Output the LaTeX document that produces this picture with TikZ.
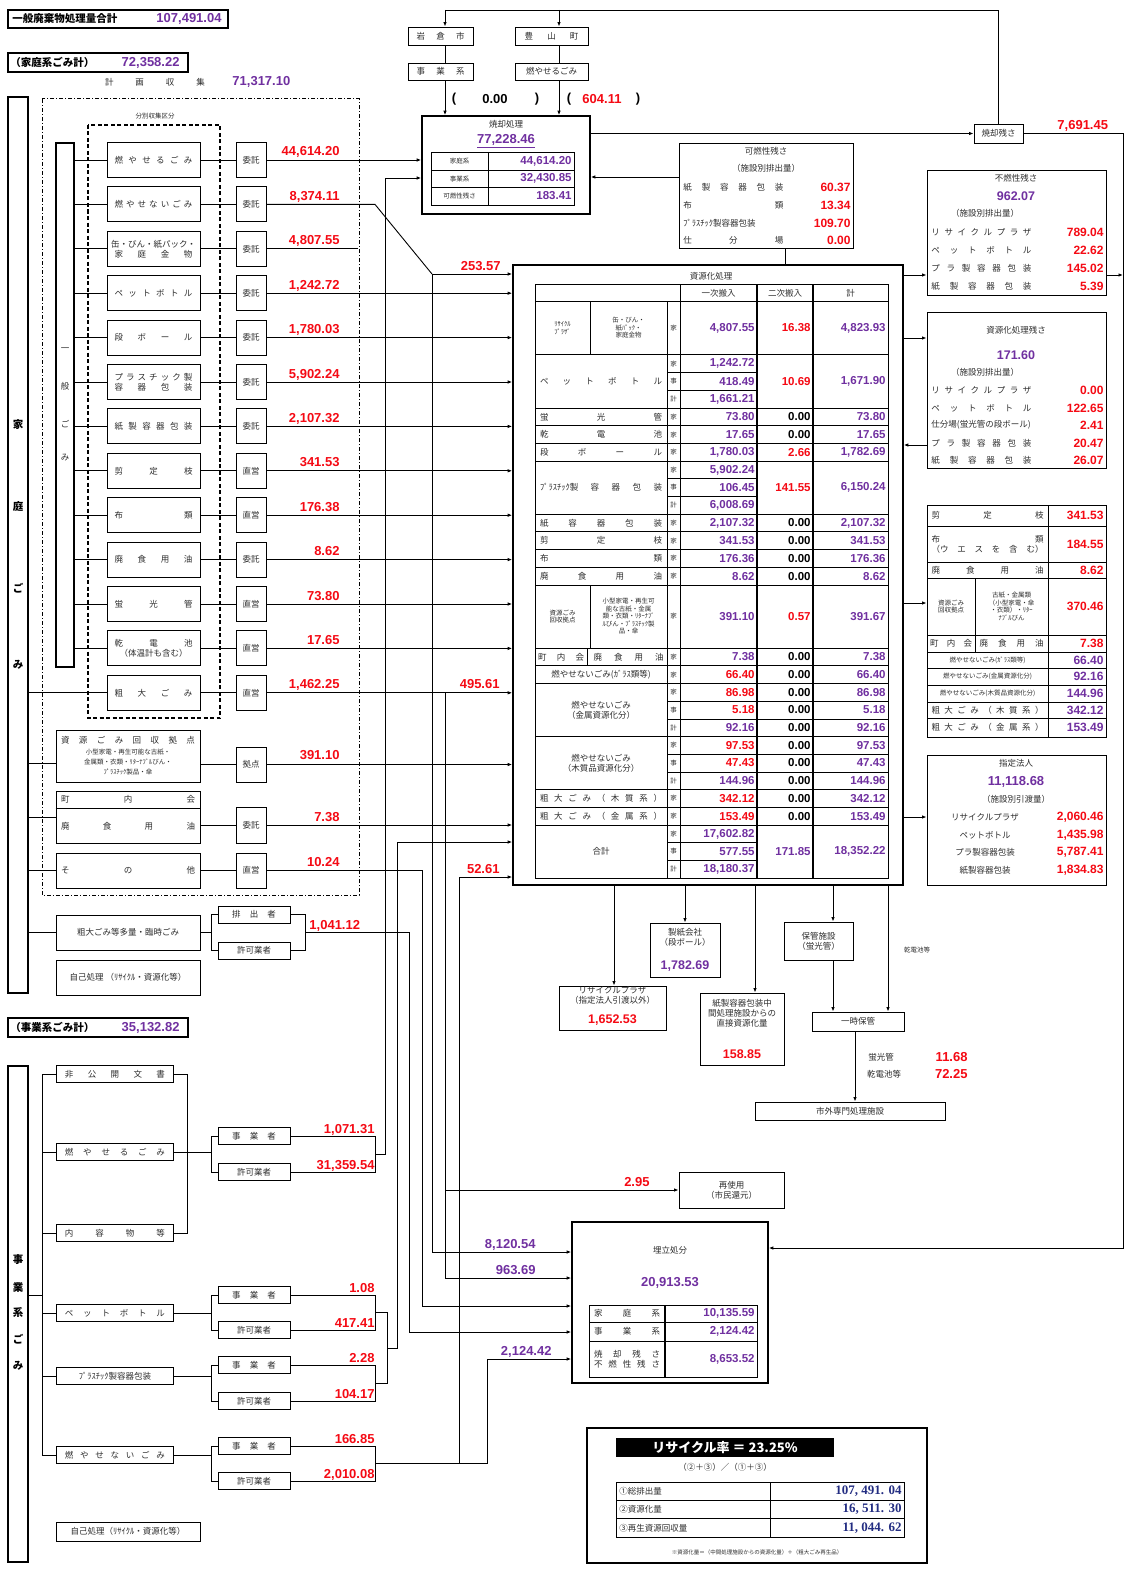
\documentclass[tikz,border=0pt]{standalone}
\usepackage{fontspec}
\setmainfont{Noto Sans CJK JP}
\newfontfamily\nf{Liberation Sans}
\newfontfamily\mf{Liberation Serif}
\usetikzlibrary{arrows.meta}
\definecolor{pu}{RGB}{112,48,160}
\definecolor{rd}{RGB}{245,10,20}
\definecolor{nv}{RGB}{35,45,130}
\definecolor{tx}{RGB}{45,45,45}
\newcounter{nc}
\newcommand\jt{\fontsize{8.5}{10}\selectfont}
\newcommand\js{\fontsize{6.5}{7.5}\selectfont}
\newcommand\jb{\fontsize{10.5}{11}\selectfont\bfseries}
\newcommand\spr[2]{\makebox[#1pt][s]{#2}}
\newcommand\bx[7][]{\node[bx,minimum width={(#5-#3)*1pt},minimum height={(#6-#4)*1pt},#1] (#2) at ({(#3+#5)/2},{(#4+#6)/2}) {#7};}
\newcommand\tv[4]{\stepcounter{nc}\node[tn,text=#4,anchor=east] (v\arabic{nc}) at (#1,#2) {#3};}
\newcommand\trow[7]{\tv{755}{#1}{#2}{#3}\tv{811}{#1}{#4}{#5}\tv{886}{#1}{#6}{#7}}
\newcommand\tk[3][]{\stepcounter{nc}\node[jt,#1] (k\arabic{nc}) at (#2) {#3};}
\newcommand\srow[8]{\tk{601,#1}{\spr{122}{#2}}\tk[font=\js]{673.5,#1}{家}\trow{#1}{#3}{#4}{#5}{#6}{#7}{#8}}
\newcommand\rrow[4]{\tk[anchor=west]{931,#1}{\spr{100}{#2}}\stepcounter{nc}\node[rn,text=#4,font=\nf\bfseries\fontsize{12}{12}\selectfont,anchor=east] (r\arabic{nc}) at (1104,#1) {#3};}
\tikzset{
 bx/.style={draw,line width=0.9pt,inner sep=0pt,align=center,font=\jt,text=tx},
 jt/.style={inner sep=0pt,align=center,font=\jt,text=tx},
 jb/.style={inner sep=0pt,font=\jb,text=black},
 rn/.style={inner sep=0pt,font=\nf\bfseries\fontsize{13}{13}\selectfont,text=rd},
 pn/.style={rn,text=pu},
 tn/.style={inner sep=0pt,font=\nf\bfseries\fontsize{11.5}{12}\selectfont},
 ar/.style={-{Latex[length=4.5pt,width=3.5pt]}},
}
\begin{document}
\begin{tikzpicture}[x=1pt,y=-1pt,line width=0.9pt]
\useasboundingbox (0,0) rectangle (1129,1573);
\fill[white] (0,0) rectangle (1129,1573);
% ---------- headers
\bx[line width=1.8pt]{hdA}{8}{10}{228}{28}{}
\node[jb,anchor=west] (hdAt) at (12,19) {一般廃棄物処理量合計};
\node[pn,anchor=east] (hdAn) at (222,19) {107,491.04};
\bx[line width=1.8pt]{hdB}{8}{53}{188}{72}{}
\node[jb,anchor=west] (hdBt) at (10,62.5) {（家庭系ごみ計）};
\node[pn,anchor=east] (hdBn) at (180,62.5) {72,358.22};
\node[jt] (kks) at (155,82) {\spr{100}{計 画 収 集}};
\node[pn,anchor=west] (kkn) at (232,82) {71,317.10};
% ---------- main boxes
\bx[line width=1.6pt]{yak}{422}{116}{590}{214}{}
\bx{kar}{679}{143}{853}{248}{}
\bx{zan}{974}{124}{1023}{143}{焼却残さ}
\bx[line width=1.6pt]{shg}{513}{265}{903}{885}{}
\bx{fun}{927}{170}{1106}{295}{}
\bx{szn}{927}{312}{1106}{468}{}
\bx{rtb}{927}{505}{1106}{737}{}
\bx{sht}{927}{755}{1106}{885}{}
\bx[line width=1.6pt]{umt}{572}{1222}{768}{1383}{}
\bx{sai}{679}{1172}{784}{1208}{再使用\\（市民還元）}
% ---------- top boxes
\bx{tA1}{408}{27}{473}{45}{\spr{48}{岩 倉 市}}
\bx{tA2}{408}{63}{473}{80}{\spr{48}{事 業 系}}
\bx{tB1}{515}{27}{588}{45}{\spr{54}{豊 山 町}}
\bx{tB2}{515}{63}{588}{80}{燃やせるごみ}
\draw (zan.north) |- (445,10);
\draw[ar] (445,10) -- (tA1.north -| 445,0);
\draw[ar] (559,10) -- (tB1.north -| 559,0);
\draw (tA1.south -| 445,0) -- (tA2.north -| 445,0);
\draw (tB1.south -| 559,0) -- (tB2.north -| 559,0);
\draw[ar] (tA2.south -| 445,0) -- (yak.north -| 445,0);
\draw[ar] (tB2.south -| 559,0) -- (yak.north -| 559,0);
\node[rn,text=black] (pa1) at (454,99) {(};
\node[rn,text=black] (pa2) at (495,99) {0.00};
\node[rn,text=black] (pa3) at (537,99) {)};
\node[rn,text=black] (pa4) at (569,99) {(};
\node[rn] (pa5) at (602,99) {604.11};
\node[rn,text=black] (pa6) at (638,99) {)};
% ---------- incineration
\node[jt] (yakT) at (506,124) {焼却処理};
\node[pn] (yakN) at (506,141) {\underline{77,228.46}};
\draw (431,152) rectangle (574,205);
\draw (431,170) -- (574,170); \draw (431,187.5) -- (574,187.5); \draw (488,152) -- (488,205);
\tk[font=\js]{459.5,161}{家庭系}\tk[font=\js]{459.5,178.7}{事業系}\tk[font=\js]{459.5,196}{可燃性残さ}
\node[tn,text=pu,anchor=east] (yk1) at (572,161) {44,614.20};
\node[tn,text=pu,anchor=east] (yk2) at (572,178.7) {32,430.85};
\node[tn,text=pu,anchor=east] (yk3) at (572,196) {183.41};
% combustible residue
\tk{766,151}{可燃性残さ}\tk{766,168}{（施設別排出量）}
\foreach \yy/\lab/\vv in {187/{\spr{100}{紙 製 容 器 包 装}}/60.37,205/{\spr{100}{布 類}}/13.34,223/{ﾌﾟﾗｽﾁｯｸ製容器包装}/109.70,240/{\spr{100}{仕 分 場}}/0.00}{
 \node[jt,anchor=west] (kl\yy) at (683,\yy) {\lab};
 \node[rn,font=\nf\bfseries\fontsize{12}{12}\selectfont,anchor=east] (kv\yy) at (851,\yy) {\vv};
}
\draw[ar] (kar.west |- 0,177) -- (yak.east |- 0,177);
\draw (kar.south -| 785,0) -- (shg.north -| 785,0);
\draw[ar] (yak.east |- 0,133.5) -- (zan.west);
\draw[ar] (zan.east) -- (1123,133.5) -- (1123,1248) -- (umt.east |- 0,1248);
\node[rn,anchor=base west] (zanN) at (1057,130) {7,691.45};
% ---------- household column
\bx[line width=1.8pt]{barH}{8}{97}{28}{993}{}
\foreach \c/\yy in {家/425,庭/507,ご/588,み/665} \node[jb] (bh\yy) at (18,\yy) {\c};
\draw[dash pattern=on 4pt off 2pt on 1pt off 2pt,line width=1pt] (42,99) rectangle (359,895);
\draw[dash pattern=on 4pt off 2.5pt,line width=1.3pt] (88,125) rectangle (220,718);
\node[jt,font=\js] (bunb) at (155,116) {分別収集区分};
\bx[line width=1.4pt]{barG}{56}{143}{74}{667}{}
\foreach \c/\yy in {一/350,般/386,ご/424,み/458} \node[jt] (bg\yy) at (65,\yy) {\c};
\foreach \i/\yc/\txt/\ag/\nm in {
 1/160/{\spr{78}{燃 や せ る ご み}}/委託/{44,614.20},
 2/204.4/{\spr{78}{燃 や せ な い ご み}}/委託/{8,374.11},
 3/248.8/{缶・びん・紙パック・\\\spr{78}{家 庭 金 物}}/委託/{4,807.55},
 4/293.2/{\spr{78}{ペ ッ ト ボ ト ル}}/委託/{1,242.72},
 5/337.6/{\spr{78}{段 ボ ー ル}}/委託/{1,780.03},
 6/382/{\spr{78}{プ ラ ス チ ッ ク 製}\\\spr{78}{容 器 包 装}}/委託/{5,902.24},
 7/426.4/{\spr{78}{紙 製 容 器 包 装}}/委託/{2,107.32},
 8/470.8/{\spr{78}{剪 定 枝}}/直営/{341.53},
 9/515.2/{\spr{78}{布 類}}/直営/{176.38},
 10/559.6/{\spr{78}{廃 食 用 油}}/委託/{8.62},
 11/604/{\spr{78}{蛍 光 管}}/直営/{73.80},
 12/648.4/{\spr{78}{乾 電 池}\\（体温計も含む）}/直営/{17.65},
 13/692.8/{\spr{78}{粗 大 ご み}}/直営/{1,462.25}}{
 \node[bx,minimum width=93pt,minimum height=35pt] (it\i) at (153.5,\yc) {\txt};
 \node[bx,minimum width=30pt,minimum height=35pt] (ag\i) at (251,\yc) {\ag};
 \node[rn,anchor=base east] (nm\i) at (340,\yc-4) {\nm};
 \draw (it\i.east) -- (ag\i.west);
}
\foreach \i in {1,...,12} \draw (barG.east |- it\i.west) -- (it\i.west);
\draw (barH.east |- it13.west) -- (it13.west);
% lower household boxes
\bx{shk}{56}{730}{200}{782}{\spr{134}{資 源 ご み 回 収 拠 点}\\[1pt]\js 小型家電・再生可能な古紙・\\\js 金属類・衣類・ﾘﾀｰﾅﾌﾞﾙびん・\\\js ﾌﾟﾗｽﾁｯｸ製品・傘}
\bx{kyo}{236}{747}{266}{782}{拠点}
\draw (barH.east |- 0,763) -- (shk.west |- 0,763);
\draw (shk.east |- kyo.west) -- (kyo.west);
\node[rn,anchor=base east] (nm14) at (340,759) {391.10};
\bx{chn}{56}{791}{200}{843}{}
\draw (chn.west |- 0,808) -- (chn.east |- 0,808);
\node[jt] (chnA) at (128,799.5) {\spr{134}{町 内 会}};
\node[jt] (chnB) at (128,826) {\spr{134}{廃 食 用 油}};
\draw (barH.east |- 0,817) -- (chn.west |- 0,817);
\bx{ag14}{236}{807}{266}{843}{委託}
\draw (chn.east |- ag14.west) -- (ag14.west);
\node[rn,anchor=base east] (nm15) at (340,821) {7.38};
\bx{sot}{56}{853}{200}{888}{\spr{134}{そ の 他}}
\bx{ag15}{236}{853}{266}{888}{直営}
\draw (barH.east |- sot.west) -- (sot.west);
\draw (sot.east) -- (ag15.west);
\node[rn,anchor=base east] (nm16) at (340,866) {10.24};
\bx{rin}{56}{915}{200}{950}{粗大ごみ等多量・臨時ごみ}
\draw (barH.east |- rin.west) -- (rin.west);
\bx{hai}{218}{906}{290}{923}{\spr{44}{排 出 者}}
\bx{kyk}{218}{942}{290}{959}{許可業者}
\draw (rin.east) -- (211,932.5);
\draw (hai.west) -- (211,914.5) -- (211,950.5) -- (kyk.west);
\draw (hai.east) -- (305,914.5) -- (305,950.5) -- (kyk.east);
\node[rn,anchor=base west] (nm17) at (309,929) {1,041.12};
\bx{self1}{56}{960}{200}{995}{自己処理\ （ﾘｻｲｸﾙ・資源化等）}
% household outgoing
\draw[ar] (ag1.east) -- (yak.west |- ag1.east);
\draw (ag2.east) -- (375,204.4) -- (432,274) coordinate (j2);
\draw[ar] (j2) -- (shg.west |- j2);
\draw[ar] (j2) |- (umt.west |- 0,1252);
\draw (ag3.east) -- (358,248.8);
\foreach \i in {4,...,13} \draw[ar] (ag\i.east) -- (shg.west |- ag\i.east);
\draw[ar] (445,692.8) |- (umt.west |- 0,1278);
\draw[ar] (445,1190) -- (sai.west |- 0,1190);
\draw[ar] (kyo.east) -- (shg.west |- kyo.east);
\draw[ar] (ag14.east) -- (shg.west |- ag14.east);
\draw[ar] (ag15.east) -- (422,870.5) |- (umt.west |- 0,1306);
\draw[ar] (305,932.5) -- (409,932.5) |- (umt.west |- 0,1332);
\node[rn,anchor=base east] (f1) at (501,270) {253.57};
\node[rn,anchor=base east] (f2) at (500,688) {495.61};
\node[rn,anchor=base east] (f3) at (500,873) {52.61};
\node[rn,anchor=base east] (f4) at (650,1186) {2.95};
\node[pn,anchor=base east] (f5) at (536,1248) {8,120.54};
\node[pn,anchor=base east] (f6) at (536,1274) {963.69};
\node[pn,anchor=base east] (f7) at (552,1355) {2,124.42};
% ---------- business column
\bx[line width=1.8pt]{hdC}{8}{1018}{188}{1037}{}
\node[jb,anchor=west] (hdCt) at (10,1027.5) {（事業系ごみ計）};
\node[pn,anchor=east] (hdCn) at (180,1027.5) {35,132.82};
\bx[line width=1.8pt]{barJ}{8}{1066}{28}{1562}{}
\foreach \c/\yy in {事/1260,業/1287,系/1313,ご/1339,み/1366} \node[jb] (bj\yy) at (18,\yy) {\c};
\foreach \i/\yc/\txt in {1/1074/{\spr{100}{非 公 開 文 書}},2/1152/{\spr{100}{燃 や せ る ご み}},3/1233/{\spr{100}{内 容 物 等}},4/1313/{\spr{100}{ペ ッ ト ボ ト ル}},5/1376/{ﾌﾟﾗｽﾁｯｸ製容器包装},6/1455/{\spr{100}{燃 や せ な い ご み}}}{
 \node[bx,minimum width=117pt,minimum height=17pt,anchor=west] (jj\i) at (56,\yc) {\txt};
 \draw (42,\yc) -- (jj\i.west);
}
\draw (barJ.east |- 0,1295) -- (42,1295);
\draw (42,1074) -- (42,1455);
\draw (jj1.east) -- (187,1074) -- (187,1233) -- (jj3.east);
\foreach \g/\ya/\yb/\na/\nb in {2/1136/1172/{1,071.31}/{31,359.54},4/1295/1330/{1.08}/{417.41},5/1365/1401/{2.28}/{104.17},6/1446/1481/{166.85}/{2,010.08}}{
 \node[bx,minimum width=72pt,minimum height=17pt] (je\g) at (254,\ya) {\spr{44}{事 業 者}};
 \node[bx,minimum width=72pt,minimum height=17pt] (jq\g) at (254,\yb) {許可業者};
 \draw (jj\g.east) -- (jj\g.east -| 211,0);
 \draw (je\g.west) -- (211,\ya) -- (211,\yb) -- (jq\g.west);
 \draw (je\g.east) -- (375,\ya) -- (375,\yb) -- (jq\g.east);
 \node[rn,anchor=base east] (na\g) at (375,\ya-3) {\na};
 \node[rn,anchor=base east] (nb\g) at (375,\yb-3) {\nb};
}
\bx{self2}{56}{1522}{200}{1541}{自己処理（ﾘｻｲｸﾙ・資源化等）}
\draw[ar] (375,1154) -- (385,1154) -- (385,178) -- (yak.west |- 0,178);
\draw (375,1312.5) -- (387,1312.5) -- (387,1383) -- (375,1383);
\draw[ar] (387,1348) -- (397,1348) -- (397,842) -- (shg.west |- 0,842);
\draw[ar] (375,1463.5) -- (487,1463.5) -- (487,1359) -- (umt.west |- 0,1359);
\draw[ar] (459,1463.5) -- (459,877) -- (shg.west |- 0,877);
% ---------- recycling table
\node[jt] (shgT) at (711,276) {資源化処理};
\draw[line width=1pt] (535,284) rectangle (888,878);
\foreach \yy in {301.7,354.8,408,425.7,443.4,461,514,531.8,549.5,567.2,585,648,665.7,683.4,736.5,789.6,807.3,825}
  \draw[line width=0.8pt] (535,\yy) -- (888,\yy);
\foreach \yy in {372.5,390.2,478.7,496.3,842.7,860.3} \draw[line width=0.6pt] (667,\yy) -- (757,\yy);
\foreach \yy in {701.1,718.8,754.2,771.9} \draw[line width=0.6pt] (667,\yy) -- (888,\yy);
\draw (667,301.7) -- (667,878); \draw (680,284) -- (680,878);
\draw[line width=1.2pt] (757,284) -- (757,878); \draw[line width=1.2pt] (813,284) -- (813,878);
\draw (590,301.7) -- (590,354.8); \draw (590,585) -- (590,648); \draw (587,648) -- (587,665.7);
\tk{718.5,293}{一次搬入}\tk{785,293}{二次搬入}\tk{850.5,293}{計}
\tk[font=\js]{562.5,328}{ﾘｻｲｸﾙ\\ﾌﾟﾗｻﾞ}
\tk[font=\js]{628.5,328}{缶・びん・\\紙ﾊﾟｯｸ・\\家庭金物}
\tk[font=\js]{673.5,328}{家}
\trow{328}{4,807.55}{pu}{16.38}{rd}{4,823.93}{pu}
\tk{601,381}{\spr{122}{ペ ッ ト ボ ト ル}}
\tk[font=\js]{673.5,363.6}{家}\tk[font=\js]{673.5,381.1}{事}\tk[font=\js]{673.5,399.1}{計}
\tv{755}{363.6}{1,242.72}{pu}\tv{755}{381.1}{418.49}{pu}\tv{755}{399.1}{1,661.21}{pu}
\tv{811}{381.1}{10.69}{rd}\tv{886}{381.1}{1,671.90}{pu}
\srow{416.9}{蛍 光 管}{73.80}{pu}{0.00}{black}{73.80}{pu}
\srow{434.6}{乾 電 池}{17.65}{pu}{0.00}{black}{17.65}{pu}
\srow{452.2}{段 ボ ー ル}{1,780.03}{pu}{2.66}{rd}{1,782.69}{pu}
\tk{601,487.5}{\spr{122}{ﾌﾟﾗｽﾁｯｸ製 容 器 包 装}}
\tk[font=\js]{673.5,469.9}{家}\tk[font=\js]{673.5,487.5}{事}\tk[font=\js]{673.5,505.2}{計}
\tv{755}{469.9}{5,902.24}{pu}\tv{755}{487.5}{106.45}{pu}\tv{755}{505.2}{6,008.69}{pu}
\tv{811}{487.5}{141.55}{rd}\tv{886}{487.5}{6,150.24}{pu}
\srow{522.9}{紙 容 器 包 装}{2,107.32}{pu}{0.00}{black}{2,107.32}{pu}
\srow{540.6}{剪 定 枝}{341.53}{pu}{0.00}{black}{341.53}{pu}
\srow{558.4}{布 類}{176.36}{pu}{0.00}{black}{176.36}{pu}
\srow{576.1}{廃 食 用 油}{8.62}{pu}{0.00}{black}{8.62}{pu}
\tk[font=\js]{562.5,616.5}{資源ごみ\\回収拠点}
\tk[font=\js]{628.5,616.5}{小型家電・再生可\\能な古紙・金属\\類・衣類・ﾘﾀｰﾅﾌﾞ\\ﾙびん・ﾌﾟﾗｽﾁｯｸ製\\品・傘}
\tk[font=\js]{673.5,616.5}{家}
\trow{616.5}{391.10}{pu}{0.57}{rd}{391.67}{pu}
\tk{561,656.9}{\spr{46}{町 内 会}}\tk{628.5,656.9}{\spr{70}{廃 食 用 油}}\tk[font=\js]{673.5,656.9}{家}
\trow{656.9}{7.38}{pu}{0.00}{black}{7.38}{pu}
\tk{601,674.6}{燃やせないごみ(ｶﾞﾗｽ類等)}\tk[font=\js]{673.5,674.6}{家}
\trow{674.6}{66.40}{rd}{0.00}{black}{66.40}{pu}
\tk{601,710}{燃やせないごみ\\（金属資源化分）}
\tk[font=\js]{673.5,692.3}{家}\tk[font=\js]{673.5,710}{事}\tk[font=\js]{673.5,727.7}{計}
\trow{692.3}{86.98}{rd}{0.00}{black}{86.98}{pu}
\trow{710}{5.18}{rd}{0.00}{black}{5.18}{pu}
\trow{727.7}{92.16}{pu}{0.00}{black}{92.16}{pu}
\tk{601,763}{燃やせないごみ\\（木質品資源化分）}
\tk[font=\js]{673.5,745.4}{家}\tk[font=\js]{673.5,763}{事}\tk[font=\js]{673.5,780.8}{計}
\trow{745.4}{97.53}{rd}{0.00}{black}{97.53}{pu}
\trow{763}{47.43}{rd}{0.00}{black}{47.43}{pu}
\trow{780.8}{144.96}{pu}{0.00}{black}{144.96}{pu}
\srow{798.5}{粗 大 ご み （ 木 質 系 ）}{342.12}{rd}{0.00}{black}{342.12}{pu}
\srow{816.2}{粗 大 ご み （ 金 属 系 ）}{153.49}{rd}{0.00}{black}{153.49}{pu}
\tk{601,851.5}{合計}
\tk[font=\js]{673.5,834}{家}\tk[font=\js]{673.5,851.5}{事}\tk[font=\js]{673.5,869.2}{計}
\tv{755}{834}{17,602.82}{pu}\tv{755}{851.5}{577.55}{pu}\tv{755}{869.2}{18,180.37}{pu}
\tv{811}{851.5}{171.85}{pu}\tv{886}{851.5}{18,352.22}{pu}
% ---------- right boxes
\tk{1016,178}{不燃性残さ}
\node[pn,font=\nf\bfseries\fontsize{12.5}{12.5}\selectfont] (funN) at (1016,196) {962.07};
\tk{985,213}{（施設別排出量）}
\rrow{232}{リ サ イ ク ル プ ラ ザ}{789.04}{rd}
\rrow{250}{ペ ッ ト ボ ト ル}{22.62}{rd}
\rrow{268}{プ ラ 製 容 器 包 装}{145.02}{rd}
\rrow{286}{紙 製 容 器 包 装}{5.39}{rd}
\draw[ar] (shg.east |- 0,275) -- (fun.west |- 0,275);
\draw[ar] (fun.east |- 0,275) -- (1123,275);
\tk{1016,330}{資源化処理残さ}
\node[pn,font=\nf\bfseries\fontsize{12.5}{12.5}\selectfont] (sznN) at (1016,355) {171.60};
\tk{985,372}{（施設別排出量）}
\rrow{390}{リ サ イ ク ル プ ラ ザ}{0.00}{rd}
\rrow{408}{ペ ッ ト ボ ト ル}{122.65}{rd}
\tk[anchor=west]{931,425}{仕分場(蛍光管の段ボール)}
\node[rn,font=\nf\bfseries\fontsize{12}{12}\selectfont,anchor=east] (sz3) at (1104,425) {2.41};
\rrow{443}{プ ラ 製 容 器 包 装}{20.47}{rd}
\rrow{460}{紙 製 容 器 包 装}{26.07}{rd}
\draw[ar] (shg.east |- 0,338) -- (szn.west |- 0,338);
\draw[ar] (szn.west |- 0,445) -- (shg.east |- 0,445);
% right table
\foreach \yy in {526,562,578,635,652,668,685,702,718} \draw[line width=0.8pt] (927,\yy) -- (1106,\yy);
\draw (1048,505) -- (1048,737); \draw (975,578) -- (975,652);
\foreach \yy/\lab/\vv/\cc in {515.5/{\spr{112}{剪 定 枝}}/341.53/rd,544/{\spr{112}{布 類}\\\spr{112}{（ウ エ ス を 含 む）}}/184.55/rd,570/{\spr{112}{廃 食 用 油}}/8.62/rd,606.5/{}/370.46/rd,643.5/{}/7.38/rd,660/{\js 燃やせないごみ(ｶﾞﾗｽ類等)}/66.40/pu,676.5/{\js 燃やせないごみ(金属資源化分)}/92.16/pu,693.5/{\js 燃やせないごみ(木質品資源化分)}/144.96/pu,710/{\spr{112}{粗 大 ご み （ 木 質 系 ）}}/342.12/pu,727.5/{\spr{112}{粗 大 ご み （ 金 属 系 ）}}/153.49/pu}{
 \node[jt] (rl\yy) at (987.5,\yy) {\lab};
 \node[rn,text=\cc,font=\nf\bfseries\fontsize{12}{12}\selectfont,anchor=east] (rv\yy) at (1104,\yy) {\vv};
}
\tk[font=\js]{951,606.5}{資源ごみ\\回収拠点}
\tk[font=\js]{1011.5,606.5}{古紙・金属類\\（小型家電・傘\\・衣類）・ﾘﾀｰ\\ﾅﾌﾞﾙびん}
\tk{951,643.5}{\spr{42}{町 内 会}}\tk{1011.5,643.5}{\spr{64}{廃 食 用 油}}
\draw[ar] (shg.east |- 0,603) -- (rtb.west |- 0,603);
% designated
\tk{1016,763}{指定法人}
\node[pn] (shtN) at (1016,782) {11,118.68};
\tk{1016,799}{（施設別引渡量）}
\foreach \yy/\lab/\vv in {817/リサイクルプラザ/{2,060.46},835/ペットボトル/{1,435.98},852/プラ製容器包装/{5,787.41},870/紙製容器包装/{1,834.83}}{
 \node[jt] (sl\yy) at (985,\yy) {\lab};
 \node[rn,font=\nf\bfseries\fontsize{12}{12}\selectfont,anchor=east] (sv\yy) at (1104,\yy) {\vv};
}
\draw[ar] (shg.east |- 0,817) -- (sht.west |- 0,817);
% ---------- bottom of recycling
\bx{rp}{559}{986}{666}{1030}{}
\node[jt] (rpT) at (612.5,995) {リサイクルプラザ\\（指定法人引渡以外）};
\node[rn,font=\nf\bfseries\fontsize{12.5}{13}\selectfont] (rpN) at (612.5,1020) {1,652.53};
\bx{sei}{650}{923}{720}{977}{}
\node[jt] (seiT) at (685,937) {製紙会社\\（段ボール）};
\node[pn,font=\nf\bfseries\fontsize{12.5}{13}\selectfont] (seiN) at (685,966) {1,782.69};
\bx{kms}{700}{993}{784}{1065}{}
\node[jt] (kmsT) at (742,1013) {紙製容器包装中\\間処理施設からの\\直接資源化量};
\node[rn,font=\nf\bfseries\fontsize{12.5}{13}\selectfont] (kmsN) at (742,1054) {158.85};
\bx{hok}{784}{922}{853}{960}{保管施設\\（蛍光管）}
\bx{ich}{812}{1012}{904}{1031}{一時保管}
\bx{sgs}{755}{1102}{945}{1120}{市外専門処理施設}
\draw[ar] (shg.south -| 614,0) -- (rp.north -| 614,0);
\draw[ar] (shg.south -| 685,0) -- (sei.north -| 685,0);
\draw[ar] (shg.south -| 755,0) -- (kms.north -| 755,0);
\draw[ar] (shg.south -| 833,0) -- (hok.north -| 833,0);
\draw[ar] (hok.south -| 833,0) -- (ich.north -| 833,0);
\draw[ar] (shg.south -| 888,0) -- (ich.north -| 888,0);
\draw[ar] (ich.south -| 855,0) -- (sgs.north -| 855,0);
\node[jt,font=\js] (kdl) at (917,950) {乾電池等};
\node[jt] (kkl1) at (881,1057) {蛍光管};
\node[jt] (kkl2) at (884,1074) {乾電池等};
\node[rn,anchor=east] (kkv1) at (968,1057) {11.68};
\node[rn,anchor=east] (kkv2) at (968,1074) {72.25};
% ---------- landfill
\tk{670,1250}{埋立処分}
\node[pn] (umtN) at (670,1283) {20,913.53};
\draw (589,1305) rectangle (757,1377);
\draw (589,1322.5) -- (757,1322.5); \draw (589,1341) -- (757,1341); \draw[line width=1.3pt] (665,1305) -- (665,1377);
\tk{627,1313.7}{\spr{66}{家 庭 系}}\tk{627,1331.7}{\spr{66}{事 業 系}}
\tk{627,1359}{\spr{66}{焼 却 残 さ}\\\spr{66}{不 燃 性 残 さ}}
\node[tn,text=pu,anchor=east] (um1) at (755,1313.7) {10,135.59};
\node[tn,text=pu,anchor=east] (um2) at (755,1331.7) {2,124.42};
\node[tn,text=pu,anchor=east] (um3) at (755,1359) {8,653.52};
% ---------- recycling rate
\bx[line width=1.4pt]{rr}{587}{1428}{927}{1563}{}
\node[fill=black,text=white,inner sep=0pt,minimum width=218pt,minimum height=19pt,font=\fontsize{13}{13}\selectfont\bfseries] (rrb) at (725,1447.5) {リサイクル率 ＝ 23.25\%};
\tk{725,1467}{（②＋③）／（①＋③）}
\draw (616,1482) rectangle (904,1537);
\draw (616,1500.3) -- (904,1500.3); \draw (616,1518.6) -- (904,1518.6); \draw (770,1482) -- (770,1537);
\tk[anchor=west]{619,1491}{①総排出量}\tk[anchor=west]{619,1509.5}{②資源化量}\tk[anchor=west]{619,1528}{③再生資源回収量}
\node[inner sep=0pt,text=nv,font=\mf\bfseries\fontsize{13}{13}\selectfont,anchor=east] (rr1) at (902,1491) {107, 491. 04};
\node[inner sep=0pt,text=nv,font=\mf\bfseries\fontsize{13}{13}\selectfont,anchor=east] (rr2) at (902,1509.5) {16, 511. 30};
\node[inner sep=0pt,text=nv,font=\mf\bfseries\fontsize{13}{13}\selectfont,anchor=east] (rr3) at (902,1528) {11, 044. 62};
\tk[font=\fontsize{5.5}{6}\selectfont]{757,1552}{※資源化量＝（中間処理施設からの資源化量）＋（粗大ごみ再生品）}
\end{tikzpicture}
\end{document}
